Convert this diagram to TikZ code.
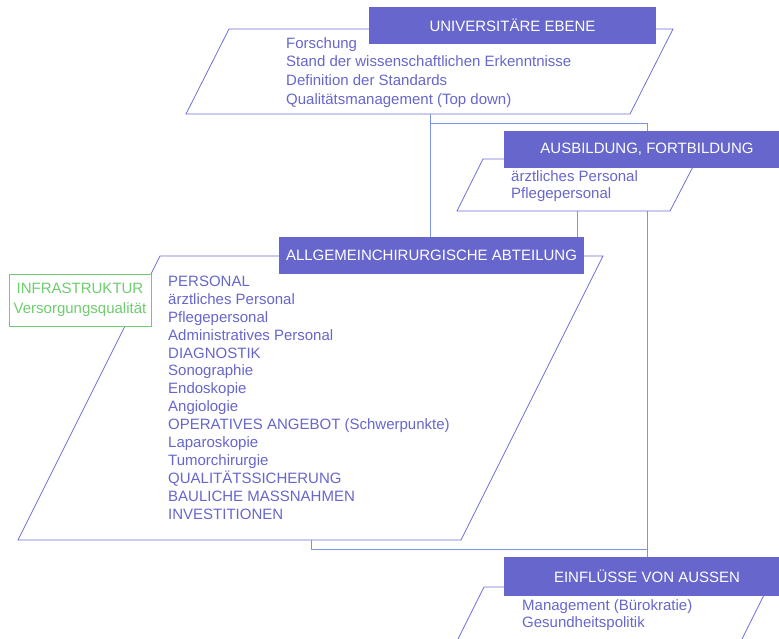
\documentclass[tikz,border=0pt]{standalone}
\usepackage{fontspec}
\setmainfont{Liberation Sans}

\definecolor{hdrblue}{RGB}{102,102,204}
\definecolor{edgeblue}{RGB}{110,110,215}
\definecolor{linkblue}{RGB}{120,150,225}
\definecolor{infgreen}{RGB}{110,205,110}

\tikzset{
  header/.style={fill=hdrblue, text=white, minimum height=37pt, inner sep=0pt},
  items/.style={text=hdrblue, align=left, anchor=north west, inner sep=0pt},
  frame/.style={draw=edgeblue, line width=0.8pt},
  link/.style={draw=linkblue, line width=1pt}
}

\begin{document}
\begin{tikzpicture}[x=1pt, y=-1pt, font=\fontsize{15}{18}\selectfont]
\useasboundingbox (0,0) rectangle (779,638);
\clip (0,0) rectangle (779,638);

\draw[frame] (229,29) -- (673,29) -- (630,114) -- (186,114) -- cycle;
\draw[frame] (483,159) -- (697,159) -- (670,211) -- (457,211) -- cycle;
\draw[frame] (160,256) -- (603,256) -- (461,540) -- (18,540) -- cycle;
\draw[frame] (484,587) -- (768,587) -- (730,663) -- (446,663) -- cycle;

\coordinate (uniP) at (430,114);
\coordinate (fork) at (430,123);
\coordinate (ausbP) at (577,211);
\coordinate (ausbQ) at (647,211);
\coordinate (allgP) at (311,540);
\coordinate (join) at (647,549);

\draw 
(512.5,25.5) node[header, minimum width=287pt](uni){UNIVERSITÄRE EBENE}
(647,149.5) node[header, minimum width=286pt](ausb){AUSBILDUNG, FORTBILDUNG}
(431.5,255.5) node[header, minimum width=305pt](allg){ALLGEMEINCHIRURGISCHE ABTEILUNG}
(647,576.5) node[header, minimum width=286pt, minimum height=39pt](einfl){EINFLÜSSE VON AUSSEN};

\draw[link] (uniP) -- (uniP |- allg.north);
\draw[link] (fork) -| (ausb.north);
\draw[link] (ausbP) -- (ausbP |- allg.north);
\draw[link] (ausbQ) -- (einfl.north);
\draw[link] (allgP) |- (join);

\node[items, font=\fontsize{15}{18.7}\selectfont] (uniT) at (286,37)
  {Forschung\\Stand der wissenschaftlichen Erkenntnisse\\Definition der Standards\\Qualitätsmanagement (Top down)};
\node[items, font=\fontsize{15}{17}\selectfont] (ausbT) at (511,170)
  {ärztliches Personal\\Pflegepersonal};
\node[items, font=\fontsize{15}{17.9}\selectfont] (allgT) at (168,275.8)
  {PERSONAL\\ärztliches Personal\\Pflegepersonal\\Administratives Personal\\DIAGNOSTIK\\Sonographie\\Endoskopie\\Angiologie\\OPERATIVES ANGEBOT (Schwerpunkte)\\Laparoskopie\\Tumorchirurgie\\QUALITÄTSSICHERUNG\\BAULICHE MASSNAHMEN\\INVESTITIONEN};
\node[items, font=\fontsize{15}{17}\selectfont] (einflT) at (522,599)
  {Management (Bürokratie)\\Gesundheitspolitik};

\node[draw=infgreen, text=infgreen, fill=white, line width=0.8pt, minimum width=142pt, minimum height=52pt, inner sep=0pt, align=center, font=\fontsize{15}{19.5}\selectfont] (infra) at (80,300) {INFRASTRUKTUR\\Versorgungsqualität};

\end{tikzpicture}
\end{document}
